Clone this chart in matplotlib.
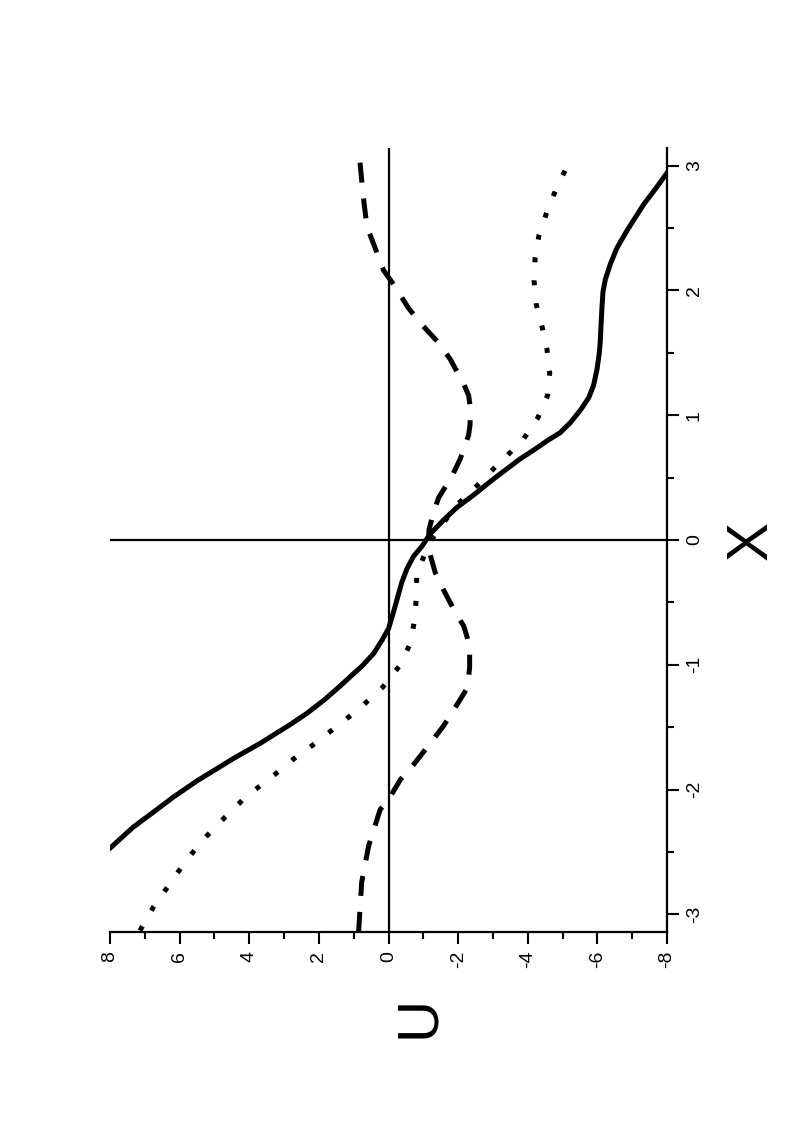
import matplotlib
matplotlib.use('Agg')
import matplotlib.pyplot as plt
from matplotlib.ticker import MultipleLocator
import numpy as np

plt.rcParams['font.family'] = ['Liberation Sans', 'DejaVu Sans']

# solid curve (x, U)
x_solid = [-2.52, -2.47, -2.30, -2.18, -2.06, -1.93, -1.75, -1.63, -1.48, -1.39,
           -1.28, -1.17, -1.07, -1.01, -0.91, -0.80, -0.71, -0.58, -0.48, -0.34,
           -0.23, -0.13, -0.05, 0.05, 0.16, 0.26, 0.36, 0.49, 0.65, 0.73,
           0.80, 0.86, 0.94, 1.04, 1.14, 1.24, 1.37, 1.49, 1.58, 1.70,
           1.86, 1.99, 2.09, 2.21, 2.34, 2.48, 2.69, 2.83, 2.95, 3.00]
u_solid = [8.25, 8.00, 7.33, 6.75, 6.18, 5.50, 4.45, 3.69, 2.83, 2.35,
           1.84, 1.39, 1.00, 0.76, 0.43, 0.18, 0.00, -0.14, -0.24, -0.38,
           -0.53, -0.72, -0.96, -1.20, -1.58, -1.96, -2.44, -3.02, -3.78, -4.22,
           -4.58, -4.93, -5.22, -5.51, -5.75, -5.89, -5.99, -6.05, -6.08, -6.10,
           -6.13, -6.16, -6.23, -6.37, -6.56, -6.85, -7.33, -7.71, -8.02, -8.15]

# dotted curve
x_dot = [-3.13, -2.94, -2.77, -2.58, -2.40, -2.22, -2.05, -1.91, -1.76, -1.63,
         -1.49, -1.35, -1.18, -1.00, -0.82, -0.65, -0.46, -0.28, -0.03, 0.27,
         0.44, 0.62, 0.79, 0.98, 1.16, 1.34, 1.53, 1.71, 1.89, 2.08,
         2.26, 2.44, 2.63, 2.81, 3.00]
u_dot = [7.14, 6.75, 6.32, 5.84, 5.32, 4.69, 4.07, 3.40, 2.75, 2.11,
         1.47, 0.83, 0.17, -0.34, -0.64, -0.74, -0.80, -0.81, -1.15, -1.92,
         -2.56, -3.19, -3.83, -4.29, -4.57, -4.63, -4.55, -4.41, -4.24, -4.18,
         -4.21, -4.32, -4.55, -4.81, -5.14]

# dashed curve
x_dash = [-3.14, -2.74, -2.45, -2.16, -2.08, -1.92, -1.80, -1.61, -1.49, -1.30,
          -1.20, -1.10, -1.02, -0.89, -0.78, -0.69, -0.58, -0.40, -0.26, -0.07,
          0.08, 0.22, 0.34, 0.51, 0.65, 0.84, 0.92, 1.00, 1.08, 1.16,
          1.25, 1.45, 1.58, 1.74, 1.86, 2.05, 2.16, 2.41, 2.51, 2.74, 3.14]
u_dash = [0.86, 0.77, 0.57, 0.24, 0.00, -0.34, -0.72, -1.25, -1.58, -2.01,
          -2.23, -2.30, -2.33, -2.33, -2.26, -2.16, -1.92, -1.58, -1.34, -1.15,
          -1.16, -1.29, -1.44, -1.82, -2.06, -2.30, -2.34, -2.35, -2.34, -2.30,
          -2.16, -1.77, -1.44, -0.91, -0.57, -0.14, 0.14, 0.48, 0.62, 0.72, 0.86]

u_ticks = list(range(-8, 9, 2))
x_ticks = list(range(-3, 4))

fig = plt.figure(figsize=(7.88, 11.34), dpi=100)
ax = fig.add_axes([0.1396, 0.1781, 0.7069, 0.6914])

# the picture is turned: U runs along the bottom (reversed), x runs up the right side
ax.plot(u_solid, x_solid, color='k', lw=3.6, solid_joinstyle='round')
ax.plot(u_dot, x_dot, color='k', lw=3.6, linestyle=(0, (1, 3.6)))
ax.plot(u_dash, x_dash, color='k', lw=3.6, linestyle=(0, (4, 3.2)))

ax.axhline(0, color='k', lw=1.6)
ax.axvline(0, color='k', lw=1.6)

ax.set_xlim(8, -8)
ax.set_ylim(-np.pi, np.pi)

ax.spines['top'].set_visible(False)
ax.spines['left'].set_visible(False)
ax.spines['bottom'].set_linewidth(1.6)
ax.spines['right'].set_linewidth(1.6)

ax.yaxis.tick_right()
ax.set_xticks(u_ticks)
ax.set_yticks(x_ticks)
ax.set_xticklabels([str(t) for t in u_ticks])
ax.set_yticklabels([str(t) for t in x_ticks])
ax.xaxis.set_minor_locator(MultipleLocator(1))
ax.yaxis.set_minor_locator(MultipleLocator(0.5))

ax.tick_params(which='major', length=8.5, width=1.5, direction='out', labelsize=14, pad=5)
ax.tick_params(which='minor', length=5, width=1.5, direction='out')
ax.tick_params(axis='both', labelrotation=90)
plt.setp(ax.get_yticklabels(), va='center', ha='left')
plt.setp(ax.get_xticklabels(), va='top', ha='center')

fig.text(419 / 788, 1 - 1017 / 1134, 'U', rotation=90, fontsize=42, ha='center', va='center')
fig.text(752 / 788, 1 - 541 / 1134, 'X', rotation=90, fontsize=42, ha='center', va='center')

fig.savefig('out.png', dpi=100)
